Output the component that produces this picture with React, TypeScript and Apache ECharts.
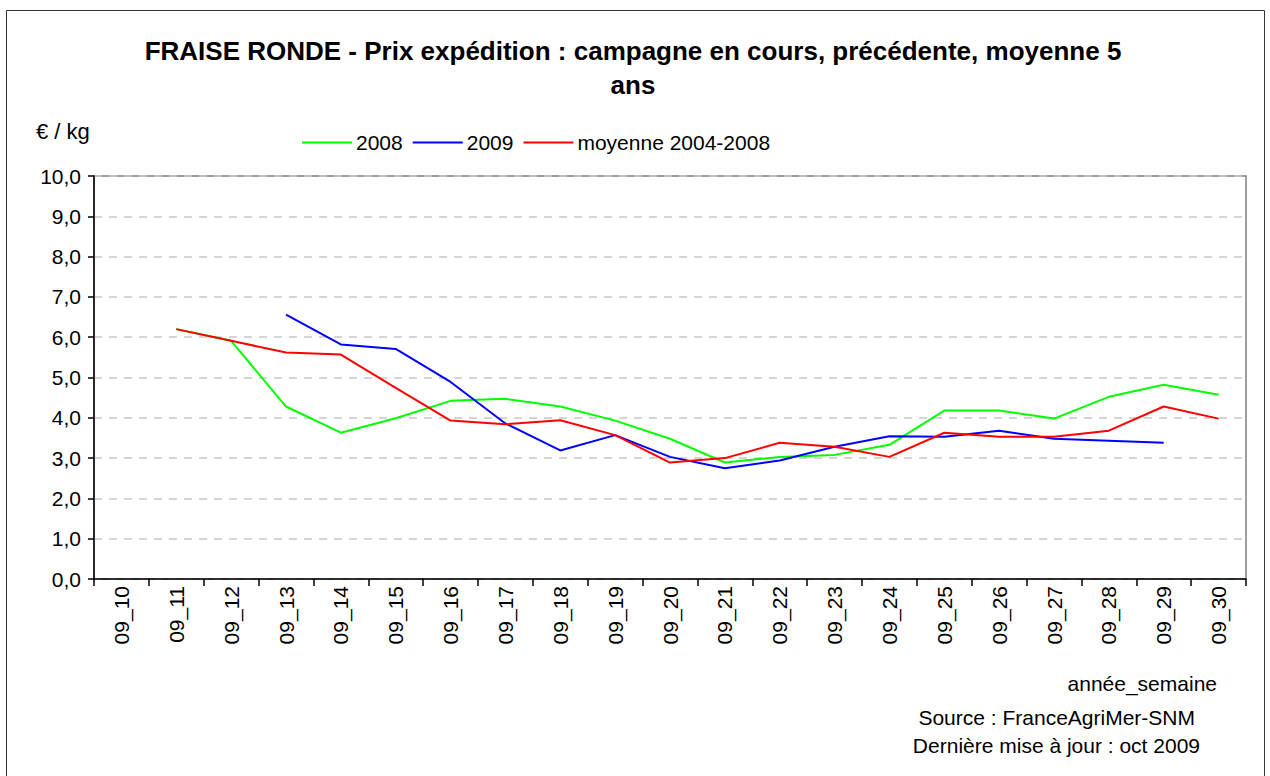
import React, { useEffect, useRef } from "react";
import * as echarts from "echarts";

const categories = [
  "09_10", "09_11", "09_12", "09_13", "09_14", "09_15", "09_16", "09_17", "09_18", "09_19", "09_20",
  "09_21", "09_22", "09_23", "09_24", "09_25", "09_26", "09_27", "09_28", "09_29", "09_30",
];
const serie2008 = [null, 6.2, 5.91, 4.28, 3.63, 3.99, 4.42, 4.47, 4.28, 3.93, 3.48, 2.89, 3.03, 3.08, 3.33, 4.18, 4.18, 3.98, 4.52, 4.82, 4.57];
const serie2009 = [null, null, null, 6.56, 5.82, 5.71, 4.89, 3.86, 3.19, 3.57, 3.03, 2.75, 2.94, 3.28, 3.54, 3.53, 3.68, 3.48, 3.43, 3.38, null];
const serieMoyenne = [null, 6.2, 5.91, 5.62, 5.57, 4.74, 3.93, 3.84, 3.94, 3.57, 2.89, 3.0, 3.38, 3.28, 3.03, 3.63, 3.53, 3.53, 3.68, 4.28, 3.98];
const seriesNames = ["2008", "2009", "moyenne 2004-2008"];
const titleLines = ["FRAISE RONDE - Prix expédition : campagne en cours, précédente, moyenne 5", "ans"];

const FONT = "'Liberation Sans', Arial, sans-serif";

export default function App() {
  const ref = useRef<HTMLDivElement>(null);
  useEffect(() => {
    if (!ref.current) return;
    const chart = echarts.init(ref.current, undefined, { renderer: "svg" });
    const lineSeries = (name: string, data: (number | null)[], color: string) => ({
      name,
      type: "line",
      data,
      symbol: "none",
      showSymbol: false,
      connectNulls: false,
      lineStyle: { color, width: 2 },
      itemStyle: { color },
    });
    const txt = (text: string, x: number, y: number, align: string, extra: any = {}) => ({
      type: "text",
      x,
      y,
      style: { text, fontFamily: FONT, fontSize: 21, fill: "#000", align, verticalAlign: "middle", ...extra },
    });
    chart.setOption({
      animation: false,
      backgroundColor: "#ffffff",
      textStyle: { fontFamily: FONT },
      legend: {
        data: seriesNames,
        left: 297,
        top: 127,
        icon: "rect",
        itemWidth: 50,
        itemHeight: 2,
        itemGap: 10,
        textStyle: { fontFamily: FONT, fontSize: 21, color: "#000", padding: [0, 0, 0, -1] },
      },
      grid: {
        left: 94,
        top: 176,
        right: 24,
        bottom: 197,
        show: true,
        borderColor: "#808080",
        borderWidth: 1.5,
        containLabel: false,
      },
      xAxis: {
        type: "category",
        data: categories,
        boundaryGap: true,
        axisLine: { lineStyle: { color: "#000", width: 1.5 } },
        axisTick: { show: true, length: 7, lineStyle: { color: "#000", width: 1.5 }, alignWithLabel: false },
        axisLabel: { rotate: 90, margin: 7, fontFamily: FONT, fontSize: 21, color: "#000", interval: 0 },
        splitLine: { show: false },
      },
      yAxis: {
        type: "value",
        min: 0,
        max: 10,
        interval: 1,
        axisLine: { show: true, lineStyle: { color: "#000", width: 1.5 } },
        axisTick: { show: true, length: 6, lineStyle: { color: "#000", width: 1.5 } },
        axisLabel: {
          margin: 13,
          fontFamily: FONT,
          fontSize: 21,
          color: "#000",
          formatter: (v: number) => v.toFixed(1).replace(".", ","),
        },
        splitLine: { show: true, lineStyle: { color: "#c8c8c8", type: [8, 7], width: 1.5 } },
      },
      series: [
        lineSeries(seriesNames[0], serie2008, "#00ff00"),
        lineSeries(seriesNames[1], serie2009, "#0000ff"),
        lineSeries(seriesNames[2], serieMoyenne, "#ff0000"),
      ],
      graphic: [
        {
          type: "rect",
          shape: { x: 6.5, y: 10.5, width: 1258, height: 800 },
          style: { fill: "none", stroke: "#333", lineWidth: 1 },
          silent: true,
          z: -1,
        },
        txt(titleLines[0], 633, 51, "center", { fontSize: 26, fontWeight: "bold" }),
        txt(titleLines[1], 633, 85, "center", { fontSize: 26, fontWeight: "bold" }),
        txt("€ / kg", 36, 131, "left", { fontSize: 22 }),
        txt("année_semaine", 1217, 683, "right"),
        txt("Source : FranceAgriMer-SNM", 1195, 717, "right"),
        txt("Dernière mise à jour : oct 2009", 1200, 745, "right"),
      ],
    });
    return () => chart.dispose();
  }, []);
  return (
    <div
      ref={ref}
      style={{ position: "fixed", left: 0, top: 0, width: 1270, height: 776 }}
    />
  );
}
